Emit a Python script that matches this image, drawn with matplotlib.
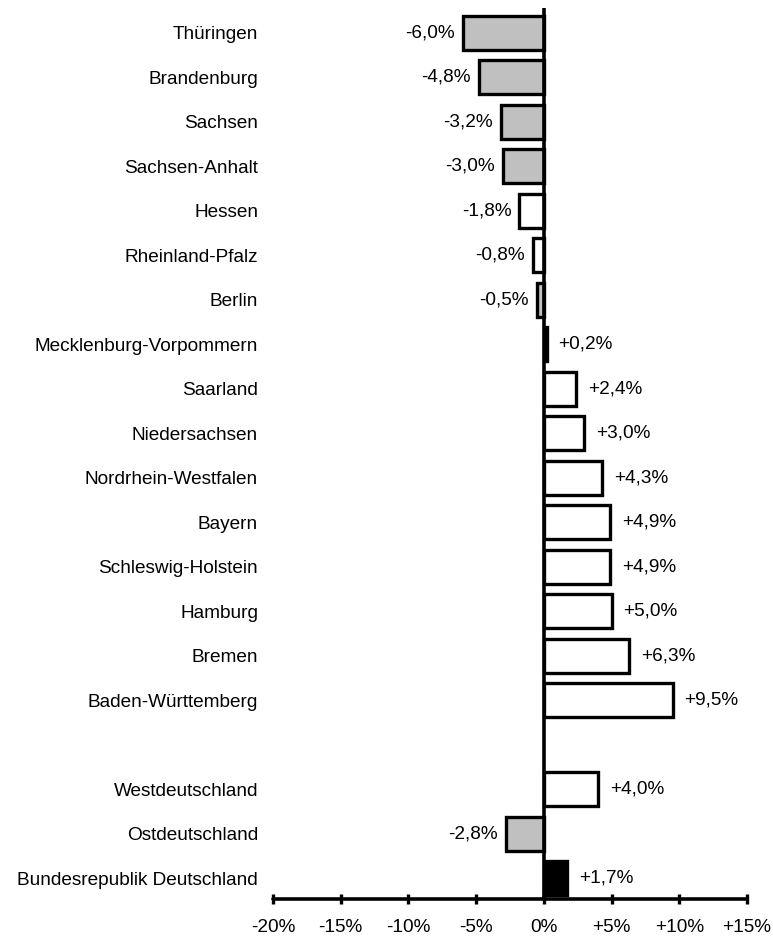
import matplotlib
matplotlib.use("Agg")
import matplotlib.pyplot as plt

plt.rcParams['font.family'] = ['Liberation Sans', 'DejaVu Sans']

categories = ["Thüringen", "Brandenburg", "Sachsen", "Sachsen-Anhalt", "Hessen",
              "Rheinland-Pfalz", "Berlin", "Mecklenburg-Vorpommern", "Saarland",
              "Niedersachsen", "Nordrhein-Westfalen", "Bayern", "Schleswig-Holstein",
              "Hamburg", "Bremen", "Baden-Württemberg",
              "Westdeutschland", "Ostdeutschland", "Bundesrepublik Deutschland"]
values = [-6.0, -4.8, -3.2, -3.0, -1.8, -0.8, -0.5, 0.2, 2.4, 3.0, 4.3, 4.9, 4.9,
          5.0, 6.3, 9.5, 4.0, -2.8, 1.7]
groups = ["ost", "ost", "ost", "ost", "west", "west", "ost", "ost", "west",
          "west", "west", "west", "west", "west", "west", "west", "west", "ost", "bund"]
xticks = [-20, -15, -10, -5, 0, 5, 10, 15]
xticklabels = ["-20%", "-15%", "-10%", "-5%", "0%", "+5%", "+10%", "+15%"]

colors = {"ost": "#C0C0C0", "west": "#FFFFFF", "bund": "#000000"}

positions = list(range(16)) + [17, 18, 19]

FS = 13.7

fig = plt.figure(figsize=(7.73, 9.36), dpi=100)
ax = fig.add_axes([273/773, 1 - 899/936, (747-273)/773, (899-8)/936])

ax.barh(positions, values, height=0.76,
        color=[colors[g] for g in groups], edgecolor="black", linewidth=2.4, zorder=2)
ax.axvline(0, color="black", linewidth=2.6, zorder=3)

def fmt(v):
    return f"{v:+.1f}%".replace(".", ",")

for p, v in zip(positions, values):
    if v >= 0:
        ax.annotate(fmt(v), (v, p), xytext=(12, 0), textcoords="offset pixels",
                    ha="left", va="center", fontsize=FS)
    else:
        ax.annotate(fmt(v), (v, p), xytext=(-8, 0), textcoords="offset pixels",
                    ha="right", va="center", fontsize=FS)

ax.set_xlim(-20, 15)
ax.set_ylim(19.47, -0.56)
ax.set_yticks(positions)
ax.set_yticklabels(categories, fontsize=FS)
ax.tick_params(axis="y", length=0, pad=10.8)
ax.set_xticks(xticks)
ax.set_xticklabels(xticklabels, fontsize=FS)
ax.tick_params(axis="x", direction="inout", length=6.5, width=2.4, pad=11)
for s in ["top", "right", "left"]:
    ax.spines[s].set_visible(False)
ax.spines["bottom"].set_linewidth(2.6)
ax.spines["bottom"].set_capstyle("round")

fig.savefig("out.png", dpi=100)
